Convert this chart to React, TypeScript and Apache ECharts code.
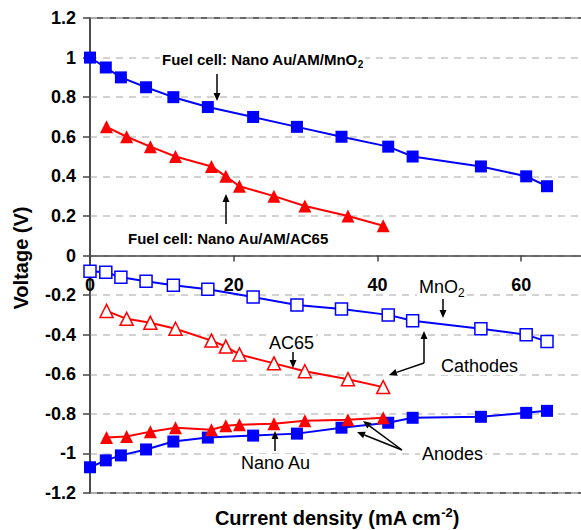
import React, { useEffect, useRef } from 'react';
import * as echarts from 'echarts';

const FONT = "'Liberation Sans', Arial, Helvetica, sans-serif";

// Current density (mA cm-2)
const mno2Current = [0, 2.2, 4.3, 7.8, 11.6, 16.4, 22.7, 28.8, 35, 41.5, 44.9, 54.4, 60.7, 63.6];
const mno2FuelCell = [1, 0.95, 0.9, 0.85, 0.8, 0.75, 0.7, 0.65, 0.6, 0.55, 0.5, 0.45, 0.4, 0.35];
const mno2Cathode = [-0.08, -0.085, -0.11, -0.13, -0.15, -0.17, -0.21, -0.25, -0.27, -0.3, -0.33, -0.37, -0.4, -0.435];
const mno2Anode = [-1.07, -1.035, -1.01, -0.98, -0.94, -0.92, -0.91, -0.9, -0.87, -0.845, -0.82, -0.815, -0.795, -0.785];

const ac65Current = [2.3, 5.1, 8.4, 11.9, 16.9, 18.9, 20.8, 25.6, 29.9, 35.9, 40.8];
const ac65FuelCell = [0.65, 0.6, 0.55, 0.5, 0.45, 0.4, 0.35, 0.3, 0.25, 0.2, 0.15];
const ac65Cathode = [-0.28, -0.32, -0.34, -0.37, -0.43, -0.46, -0.5, -0.545, -0.585, -0.625, -0.665];
const ac65Anode = [-0.92, -0.915, -0.89, -0.87, -0.88, -0.86, -0.855, -0.85, -0.835, -0.83, -0.82];

const BLUE = '#0000ff';
const RED = '#ff0000';

const GRID_TOP = 18;
const GRID_BOTTOM = 37;
const CHART_H = 530;

const pair = (xs: number[], ys: number[]) => xs.map((x, i) => [x, ys[i]]);

function arrow(x1: number, y1: number, x2: number, y2: number, len = 8, half = 3.5): any[] {
  const dx = x2 - x1;
  const dy = y2 - y1;
  const L = Math.hypot(dx, dy);
  const ux = dx / L;
  const uy = dy / L;
  const bx = x2 - ux * len;
  const by = y2 - uy * len;
  return [
    { type: 'line', z: 10, shape: { x1, y1, x2: bx, y2: by }, style: { stroke: '#000', lineWidth: 1.5 } },
    {
      type: 'polygon',
      z: 10,
      shape: { points: [[x2, y2], [bx - uy * half, by + ux * half], [bx + uy * half, by - ux * half]] },
      style: { fill: '#000' },
    },
  ];
}

function label(x: number, y: number, text: string, size: number, weight: string, rich?: any): any {
  return {
    type: 'text',
    x,
    y,
    z: 1,
    style: {
      text,
      rich,
      fontSize: size,
      fontWeight: weight,
      fontFamily: FONT,
      fill: '#000',
      align: 'left',
      verticalAlign: 'middle',
      textAlign: 'left',
      textVerticalAlign: 'middle',
      backgroundColor: '#fff',
      padding: [0, 2],
    },
  };
}

function subRich(size: number, weight: string) {
  return {
    m: { fontSize: size, fontWeight: weight, fontFamily: FONT, fill: '#000', color: '#000', lineHeight: size + 5 },
    s: {
      fontSize: Math.round(size * 0.65),
      fontWeight: weight,
      fontFamily: FONT,
      fill: '#000',
      color: '#000',
      lineHeight: 8,
      verticalAlign: 'bottom',
    },
  };
}

export default function App() {
  const ref = useRef<HTMLDivElement>(null);

  useEffect(() => {
    if (!ref.current) return;
    const chart = echarts.init(ref.current, undefined, { renderer: 'svg' });

    const lineSeries = (name: string, xs: number[], ys: number[], color: string, symbol: string, filled: boolean) => ({
      name,
      type: 'line',
      data: pair(xs, ys),
      symbol,
      symbolSize: symbol === 'triangle' ? 13 : 12,
      lineStyle: { color, width: 2 },
      itemStyle: filled
        ? { color, borderColor: color, borderWidth: 0 }
        : { color: '#ffffff', borderColor: color, borderWidth: 1.5 },
      emphasis: { disabled: true },
    });

    const yMin = -1.2;
    const yMax = 1.2;
    const plotH = CHART_H - GRID_TOP - GRID_BOTTOM;
    // distance from the bottom edge of the plot up to value 0
    const zeroOffset = (plotH * (0 - yMin)) / (yMax - yMin);

    const graphics: any[] = [
      label(160, 59, '{m|Fuel cell: Nano Au/AM/MnO}{s|2}', 15, 'bold', subRich(15, 'bold')),
      ...arrow(217, 74, 217, 101),
      label(126, 238, 'Fuel cell: Nano Au/AM/AC65', 15, 'bold'),
      ...arrow(226, 224, 226, 194),
      label(417, 287, '{m|MnO}{s|2}', 18, 'normal', subRich(18, 'normal')),
      ...arrow(443, 299, 443, 318),
      label(267, 343, 'AC65', 18, 'normal'),
      ...arrow(293, 352, 293, 368),
      label(439, 366, 'Cathodes', 18, 'normal'),
      ...arrow(424, 363, 424, 331),
      ...arrow(424, 363, 389, 375),
      label(420, 454, 'Anodes', 18, 'normal'),
      ...arrow(402, 450, 363, 421),
      ...arrow(402, 450, 357, 432),
      label(239, 463, 'Nano Au', 18, 'normal'),
      ...arrow(275, 451, 275, 431),
      {
        type: 'text',
        x: 21,
        y: 258,
        rotation: Math.PI / 2,
        z: 1,
        style: {
          text: 'Voltage (V)',
          fontSize: 20,
          fontWeight: 'bold',
          fontFamily: FONT,
          fill: '#000',
          align: 'center',
          verticalAlign: 'middle',
          textAlign: 'center',
          textVerticalAlign: 'middle',
        },
      },
      {
        type: 'text',
        x: 337,
        y: 518,
        z: 1,
        style: {
          text: '{m|Current density (mA cm}{u|-2}{m|)}',
          rich: {
            m: { fontSize: 20, fontWeight: 'bold', fontFamily: FONT, fill: '#000', color: '#000', lineHeight: 24 },
            u: {
              fontSize: 13,
              fontWeight: 'bold',
              fontFamily: FONT,
              fill: '#000',
              color: '#000',
              lineHeight: 14,
              verticalAlign: 'top',
            },
          },
          align: 'center',
          verticalAlign: 'middle',
          textAlign: 'center',
          textVerticalAlign: 'middle',
        },
      },
    ];

    chart.setOption({
      animation: false,
      backgroundColor: '#ffffff',
      grid: {
        left: 90,
        right: -12,
        top: GRID_TOP,
        bottom: GRID_BOTTOM,
        show: true,
        borderColor: '#666666',
        borderWidth: 2,
        backgroundColor: 'transparent',
        containLabel: false,
        outerBoundsMode: 'none',
      },
      xAxis: {
        type: 'value',
        min: 0,
        max: 70,
        interval: 20,
        position: 'bottom',
        offset: -zeroOffset,
        axisLine: { show: true, onZero: false, lineStyle: { color: '#444444', width: 1.5 } },
        axisTick: { show: true, length: 6, inside: false, lineStyle: { color: '#444444', width: 1.5 } },
        axisLabel: {
          margin: 20,
          fontSize: 18,
          fontWeight: 'bold',
          fontFamily: FONT,
          color: '#000',
          formatter: (v: number) => (v % 20 === 0 ? String(v) : ''),
        },
        splitLine: { show: false },
      },
      yAxis: {
        type: 'value',
        min: yMin,
        max: yMax,
        interval: 0.2,
        axisLine: { show: true, onZero: false, lineStyle: { color: '#444444', width: 1.5 } },
        axisTick: { show: true, length: 7, inside: false, lineStyle: { color: '#444444', width: 1.5 } },
        axisLabel: {
          margin: 14,
          fontSize: 18,
          fontWeight: 'bold',
          fontFamily: FONT,
          color: '#000',
        },
        splitLine: { show: true, lineStyle: { color: '#c4c4c4', width: 1.5, type: [7, 6] } },
      },
      series: [
        lineSeries('Fuel cell MnO2', mno2Current, mno2FuelCell, BLUE, 'rect', true),
        lineSeries('Fuel cell AC65', ac65Current, ac65FuelCell, RED, 'triangle', true),
        lineSeries('Cathode MnO2', mno2Current, mno2Cathode, BLUE, 'rect', false),
        lineSeries('Cathode AC65', ac65Current, ac65Cathode, RED, 'triangle', false),
        lineSeries('Anode (MnO2 cell)', mno2Current, mno2Anode, BLUE, 'rect', true),
        lineSeries('Anode (AC65 cell)', ac65Current, ac65Anode, RED, 'triangle', true),
      ],
      graphic: graphics,
    });

    return () => {
      chart.dispose();
    };
  }, []);

  return (
    <div
      ref={ref}
      style={{ position: 'absolute', left: 0, top: 0, width: 581, height: 530, background: '#fff' }}
    />
  );
}
